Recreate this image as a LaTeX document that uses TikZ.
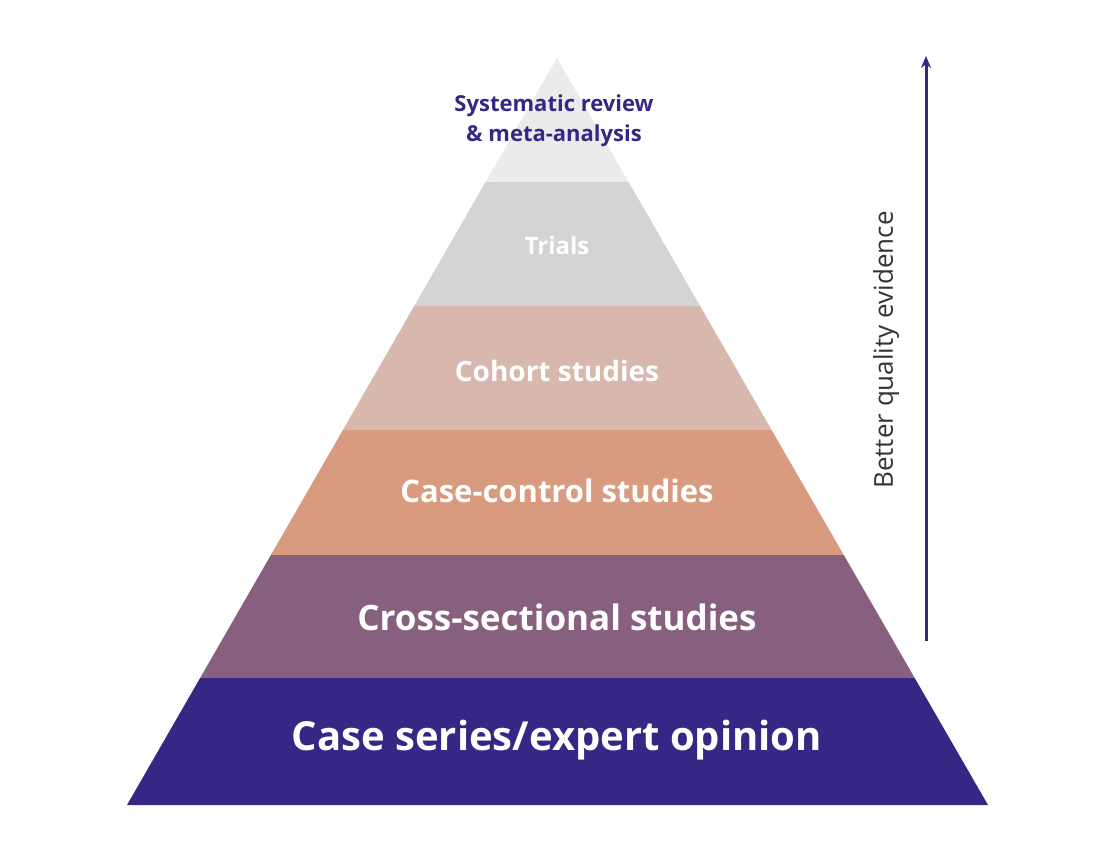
\documentclass[tikz,border=0pt]{standalone}
\usepackage{fontspec}
\usetikzlibrary{arrows.meta}
\setmainfont{Open Sans}
\definecolor{c1}{HTML}{EBEBEB}
\definecolor{c2}{HTML}{D4D4D4}
\definecolor{c3}{HTML}{D8B8AC}
\definecolor{c4}{HTML}{D99B80}
\definecolor{c5}{HTML}{87607F}
\definecolor{c6}{HTML}{352884}
\begin{document}
\begin{tikzpicture}[x=1pt,y=-1pt,
  lab/.style={text=white,font=\bfseries,align=center}]
\useasboundingbox (0,0) rectangle (1116,864);
\fill[c1] (557,58) -- (628.6,182) -- (485.6,182) -- cycle;
\fill[c2] (485.6,182) -- (628.6,182) -- (700.1,306) -- (414.2,306) -- cycle;
\fill[c3] (414.2,306) -- (700.1,306) -- (771.6,430) -- (342.9,430) -- cycle;
\fill[c4] (342.9,430) -- (771.6,430) -- (843.8,555) -- (270.9,555) -- cycle;
\fill[c5] (270.9,555) -- (843.8,555) -- (914.7,678) -- (200.1,678) -- cycle;
\fill[c6] (200.1,678) -- (914.7,678) -- (988,805) -- (127,805) -- cycle;
\node[lab,text=c6,font=\bfseries\fontsize{22}{30}\selectfont] (t1) at (554,121) {Systematic review\\\& meta-analysis};
\node[lab,font=\bfseries\fontsize{24}{28}\selectfont] (t2) at (557,245) {Trials};
\node[lab,font=\bfseries\fontsize{28}{32}\selectfont] (t3) at (557,371) {Cohort studies};
\node[lab,font=\bfseries\fontsize{31}{36}\selectfont] (t4) at (557,491) {Case-control studies};
\node[lab,font=\bfseries\fontsize{35}{40}\selectfont] (t5) at (557,617) {Cross-sectional studies};
\node[lab,font=\bfseries\fontsize{40}{46}\selectfont] (t6) at (557,740) {Case series/expert opinion};
\coordinate (a0) at (926,641);
\coordinate (a1) at (926,56);
\draw[c6,line width=3pt,-{Stealth[length=12pt,width=10pt]}] (a0) -- (a1);
\node[rotate=90,text=black!80,font=\fontsize{26}{30}\selectfont] (q) at (886,350) {Better quality evidence};
\end{tikzpicture}
\end{document}
